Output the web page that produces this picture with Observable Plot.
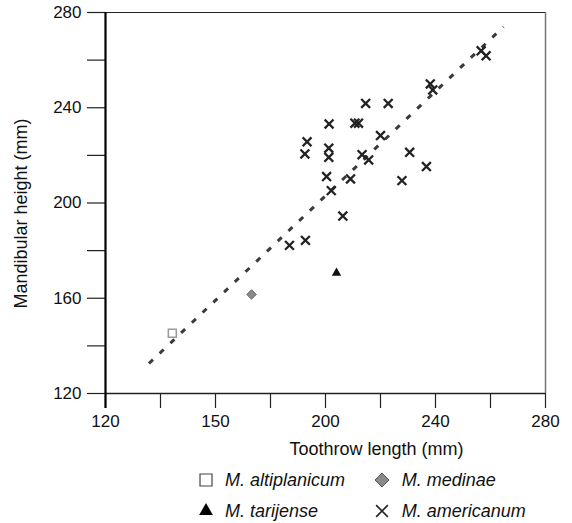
<!DOCTYPE html>
<html><head><meta charset="utf-8">
<script src="https://cdn.jsdelivr.net/npm/d3@7"></script>
<script src="https://cdn.jsdelivr.net/npm/@observablehq/plot@0.6"></script>
<style>
body{margin:0;background:#fff;font-family:"Liberation Sans",Arial,Helvetica,sans-serif;}
#chart{width:572px;}
#legend{position:relative;width:572px;height:53px;}
#legend .sym{position:absolute;overflow:visible;}
#legend .lab{position:absolute;font-style:italic;font-size:18px;color:#111;line-height:20px;white-space:nowrap;}
</style></head><body>
<div id="chart"></div>
<div id="legend"></div>
<script>
// ---- data ----
const americanumX = [214.6, 222.8, 201.3, 210.7, 212.0, 193.3, 192.5, 201.2, 201.2, 220.0, 213.3, 215.7, 230.6, 236.7, 200.4, 209.1, 227.8, 202.1, 206.3, 186.9, 192.7, 238.1, 239.0, 256.6, 258.4];
const americanumY = [241.8, 241.8, 233.2, 233.5, 233.5, 225.7, 220.6, 223.0, 219.2, 228.3, 220.3, 218.1, 221.3, 215.3, 211.1, 210.1, 209.4, 205.2, 194.5, 182.2, 184.3, 250.0, 247.5, 263.9, 261.8];
const altiplanicumX = [144.3];
const altiplanicumY = [145.3];
const medinaeX = [173.1];
const medinaeY = [161.6];
const tarijenseX = [204.0];
const tarijenseY = [170.6];
const fitLineX = [135.8, 264.7];
const fitLineY = [132.6, 274.0];
const tickValues = [120, 140, 160, 180, 200, 220, 240, 260, 280];
const xLabelTicks = [120, 160, 200, 240, 280];
const xLabelTexts = ["120", "150", "200", "240", "280"];
const yLabelTicks = [120, 160, 200, 240, 280];
const yLabelTexts = ["120", "160", "200", "240", "280"];
const xTitle = "Toothrow length (mm)";
const yTitle = "Mandibular height (mm)";
const speciesNames = ["M. altiplanicum", "M. medinae", "M. tarijense", "M. americanum"];

const zip = (xs, ys) => xs.map((x, i) => ({x, y: ys[i]}));
const font = '"Liberation Sans", Arial, Helvetica, sans-serif';

const chart = Plot.plot({
  width: 572,
  height: 470,
  marginTop: 12,
  marginBottom: 77,
  marginLeft: 105,
  marginRight: 27,
  style: {fontFamily: font, background: "#fff", color: "#111", overflow: "visible"},
  x: {domain: [120, 280]},
  y: {domain: [120, 280]},
  marks: [
    Plot.ruleY([280], {stroke: "#222", strokeWidth: 1.2}),
    Plot.ruleX([280], {stroke: "#777", strokeWidth: 1.5}),
    Plot.axisX({ticks: tickValues, tickSize: 15, tickPadding: 6, fontSize: 17, stroke: "#222", strokeWidth: 1.2,
      tickFormat: d => { const i = xLabelTicks.indexOf(d); return i >= 0 ? xLabelTexts[i] : ""; }, label: null}),
    Plot.axisY({ticks: tickValues, tickSize: 18, tickPadding: 6, fontSize: 17, stroke: "#222", strokeWidth: 1.2,
      tickFormat: d => { const i = yLabelTicks.indexOf(d); return i >= 0 ? yLabelTexts[i] : ""; }, label: null}),
    Plot.ruleY([120], {stroke: "#222", strokeWidth: 1.5}),
    Plot.ruleX([120], {stroke: "#000", strokeWidth: 2.2, insetBottom: -15}),
    Plot.text([xTitle], {text: d => d, frameAnchor: "bottom", dx: 51, dy: 56, lineAnchor: "middle", fontSize: 18, fill: "#111"}),
    Plot.text([yTitle], {text: d => d, frameAnchor: "left", textAnchor: "middle", rotate: -90, dx: -84, dy: 10.5, lineAnchor: "middle", fontSize: 18, fill: "#111"}),
    Plot.line(zip(fitLineX, fitLineY), {x: "x", y: "y", stroke: "#3a3a3a", strokeWidth: 3, strokeDasharray: "5.5,9.3", strokeLinecap: "butt"}),
    Plot.dot(zip(altiplanicumX, altiplanicumY), {x: "x", y: "y", symbol: "square", r: 4.5, stroke: "#999", strokeWidth: 1.5, fill: "none"}),
    Plot.dot(zip(medinaeX, medinaeY), {x: "x", y: "y", symbol: "diamond2", r: 4.3, fill: "#8a8a8a", stroke: "#6a6a6a", strokeWidth: 1}),
    Plot.dot(zip(tarijenseX, tarijenseY), {x: "x", y: "y", symbol: "triangle2", r: 4.5, fill: "#111", stroke: "none"}),
    Plot.dot(zip(americanumX, americanumY), {x: "x", y: "y", symbol: "times", r: 4.1, stroke: "#222", strokeWidth: 2.3})
  ]
});
document.getElementById("chart").appendChild(chart);

// ---- legend ----
const legendItems = [
  {name: speciesNames[0], type: d3.symbolSquare, size: 144, fill: "none", stroke: "#444", sw: 1.2, col: 0, row: 0},
  {name: speciesNames[1], type: d3.symbolDiamond2, size: 125, fill: "#8a8a8a", stroke: "#555", sw: 1, col: 1, row: 0},
  {name: speciesNames[2], type: d3.symbolTriangle2, size: 135, fill: "#000", stroke: "none", sw: 0, col: 0, row: 1},
  {name: speciesNames[3], type: d3.symbolTimes, size: 91, fill: "none", stroke: "#222", sw: 1.6, col: 1, row: 1}
];
const colSym = [206, 381.7], colText = [225, 401.7], rowY = [10, 40.7];
const leg = d3.select("#legend");
legendItems.forEach(it => {
  const s = leg.append("svg").attr("class", "sym").attr("width", 20).attr("height", 20)
    .style("left", (colSym[it.col] - 10) + "px").style("top", (rowY[it.row] - 10) + "px");
  s.append("path").attr("transform", "translate(10,10)")
    .attr("d", d3.symbol(it.type, it.size)())
    .attr("fill", it.fill).attr("stroke", it.stroke).attr("stroke-width", it.sw);
  leg.append("div").attr("class", "lab").text(it.name)
    .style("left", colText[it.col] + "px").style("top", (rowY[it.row] - 10) + "px");
});
</script>
</body></html>
